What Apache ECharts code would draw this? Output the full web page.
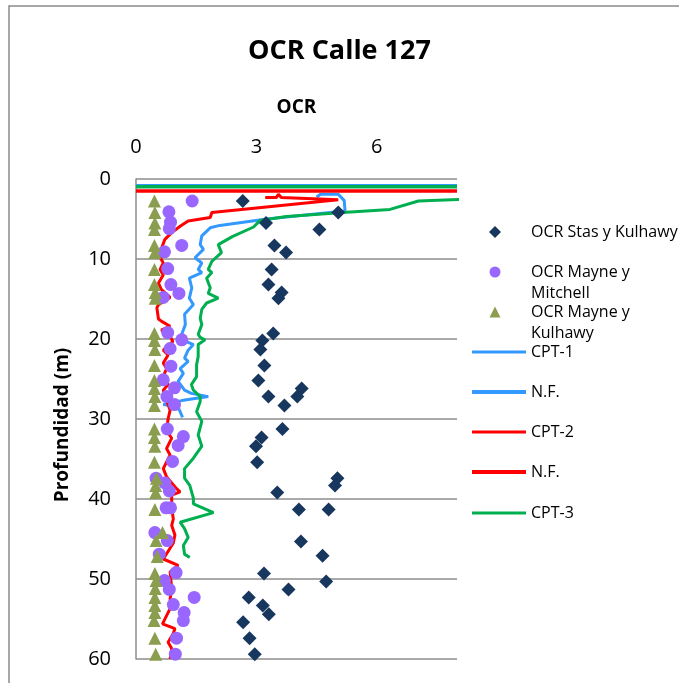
<!DOCTYPE html>
<html>
<head>
<meta charset="utf-8">
<script src="https://cdn.jsdelivr.net/npm/echarts@6/dist/echarts.min.js"></script>
<style>
  html, body { margin: 0; padding: 0; background: #ffffff; }
  #chart { width: 679px; height: 683px; }
</style>
</head>
<body>
<div id="chart"></div>
<script>
// OCR values against depth (m) for the Calle 127 site

// [OCR, depth]
const stasKulhawy = [
  [2.66, 2.75], [5.04, 4.2], [3.24, 5.5], [4.57, 6.3], [3.45, 8.3], [3.74, 9.2],
  [3.38, 11.3], [3.3, 13.2], [3.63, 14.2], [3.55, 14.9], [3.42, 19.3], [3.15, 20.2],
  [3.1, 21.3], [3.2, 23.3], [3.05, 25.2], [4.13, 26.2], [4.02, 27.2], [3.3, 27.2],
  [3.7, 28.3], [3.65, 31.25], [3.13, 32.3], [2.99, 33.4], [3.02, 35.4], [5.02, 37.4],
  [4.96, 38.3], [3.52, 39.2], [4.06, 41.3], [4.8, 41.3], [4.11, 45.3], [4.65, 47.1],
  [3.19, 49.3], [4.74, 50.3], [3.8, 51.3], [2.81, 52.3], [3.16, 53.3], [3.31, 54.4],
  [2.67, 55.4], [2.83, 57.4], [2.96, 59.4]
];

const mayneMitchell = [
  [1.4, 2.75], [0.82, 4.1], [0.86, 5.4], [0.83, 6.2], [1.14, 8.3], [0.71, 9.1],
  [0.79, 11.2], [0.87, 13.2], [1.07, 14.3], [0.68, 14.8], [0.79, 19.2], [1.14, 20.1],
  [0.85, 21.2], [0.87, 23.4], [0.68, 25.1], [0.96, 26.1], [0.77, 27.2], [0.96, 28.2],
  [0.78, 31.25], [1.18, 32.2], [1.05, 33.3], [0.91, 35.3], [0.5, 37.4], [0.72, 38.0],
  [0.83, 39.0], [0.75, 41.1], [0.86, 41.1], [0.47, 44.2], [0.78, 45.2], [0.58, 46.9],
  [1.0, 49.2], [0.71, 50.2], [0.83, 51.3], [1.45, 52.3], [0.93, 53.2], [1.2, 54.2],
  [1.18, 55.2], [1.01, 57.4], [0.98, 59.4]
];

const mayneKulhawy = [
  [0.46, 2.75], [0.47, 4.2], [0.47, 5.5], [0.46, 6.3], [0.46, 8.3], [0.47, 9.2],
  [0.46, 11.3], [0.46, 13.2], [0.48, 14.2], [0.48, 14.9], [0.46, 19.3], [0.46, 20.2],
  [0.47, 21.3], [0.46, 23.3], [0.46, 25.2], [0.46, 26.2], [0.47, 27.2], [0.46, 28.3],
  [0.46, 31.25], [0.46, 32.3], [0.47, 33.4], [0.46, 35.4], [0.51, 37.4], [0.49, 38.3],
  [0.49, 39.2], [0.47, 41.3], [0.66, 44.2], [0.5, 45.2], [0.53, 47.2], [0.47, 49.3],
  [0.5, 50.2], [0.48, 51.2], [0.47, 52.3], [0.47, 53.3], [0.47, 54.2], [0.45, 55.2],
  [0.47, 57.4], [0.49, 59.4]
];

const cpt1 = [
  [4.5, 2.25], [4.6, 1.9], [5.04, 1.9], [5.19, 2.7], [5.21, 4.0], [3.26, 5.0],
  [2.09, 5.8], [1.85, 6.1], [1.64, 7.1], [1.6, 8.2], [1.68, 8.8], [1.47, 9.85],
  [1.64, 10.5], [1.55, 11.3], [1.64, 11.7], [1.33, 12.4], [1.39, 13.6], [1.33, 14.9],
  [1.43, 15.7], [1.21, 16.9], [1.23, 18.2], [1.14, 19.4], [1.1, 20.0], [1.43, 20.7],
  [1.3, 21.4], [1.21, 22.4], [1.3, 22.8], [1.1, 23.7], [1.18, 24.3], [1.05, 25.3],
  [1.21, 26.4], [1.38, 26.8], [1.8, 27.2], [1.14, 27.7], [0.68, 28.2], [1.05, 28.5],
  [1.16, 29.8]
];

const cpt2 = [
  [3.22, 2.3], [3.5, 2.3], [3.55, 1.9], [3.62, 2.3], [5.04, 2.6], [5.04, 2.85],
  [1.89, 4.2], [1.85, 4.8], [1.3, 5.25], [1.1, 5.9], [0.89, 6.7], [0.72, 7.55],
  [0.64, 8.6], [0.61, 9.85], [0.68, 10.5], [0.6, 11.3], [0.68, 12.0], [0.56, 13.0],
  [0.63, 13.8], [0.85, 14.8], [0.56, 15.7], [0.52, 16.1], [0.56, 17.5], [0.64, 17.8],
  [0.85, 18.4], [0.63, 18.9], [0.82, 19.4], [0.92, 20.3], [0.68, 21.4], [0.8, 22.0],
  [0.68, 23.0], [0.76, 23.7], [0.68, 24.7], [0.8, 25.7], [0.68, 26.4], [0.76, 27.6],
  [0.85, 28.9], [0.8, 30.0], [0.76, 31.4], [0.89, 32.4], [0.76, 33.7], [0.85, 34.5],
  [0.68, 36.2], [0.76, 37.2], [1.01, 38.7], [1.1, 39.1], [0.89, 39.5], [0.89, 41.1],
  [0.93, 42.5], [0.89, 43.3], [0.97, 44.5], [0.93, 45.5], [0.68, 47.5], [1.05, 48.3],
  [0.85, 49.1], [0.89, 51.2], [0.85, 52.5], [0.89, 53.3], [0.66, 55.6], [0.97, 56.2],
  [0.93, 56.8], [0.8, 57.9], [0.89, 58.7], [0.85, 60.0]
];

const cpt3 = [
  [13.6, 2.3], [8.03, 2.55], [7.04, 2.75], [6.33, 3.8], [5.25, 4.15], [3.75, 4.7],
  [3.09, 5.2], [2.93, 6.0], [2.4, 7.2], [2.05, 8.2], [2.13, 9.2], [1.89, 10.3],
  [1.8, 11.3], [1.89, 11.7], [1.76, 12.4], [1.85, 13.6], [1.8, 14.3], [2.05, 14.9],
  [1.76, 15.5], [1.64, 16.3], [1.6, 17.4], [1.64, 18.2], [1.55, 19.4], [1.6, 19.8],
  [1.72, 20.1], [1.55, 20.7], [1.55, 22.2], [1.51, 23.2], [1.51, 24.7], [1.38, 25.7],
  [1.43, 26.4], [1.6, 27.2], [1.6, 27.8], [1.51, 29.1], [1.64, 30.3], [1.55, 32.0],
  [1.64, 33.4], [1.43, 34.9], [1.21, 36.2], [1.21, 37.4], [1.34, 38.3], [1.43, 39.9],
  [1.43, 40.6], [1.93, 41.7], [1.1, 42.9], [1.21, 43.7], [1.3, 44.8], [1.18, 45.8],
  [1.21, 46.9], [1.34, 47.3]
];

// water table (N.F.) depth for each sounding
const nfCpt1 = [[0, 0.85], [8, 0.85]];
const nfCpt2 = [[0, 1.5], [8, 1.5]];
const nfCpt3 = [[0, 0.97], [8, 0.97]];

const xTicks = [0, 3, 6];
const FONT = 'Open Sans';
const GRID_GRAY = '#8c8c8c';

const COLORS = {
  stas: '#17375E',
  mitchell: '#9966FF',
  kulhawy: '#8B9E4F',
  cpt1: '#3399FF',
  cpt2: '#FF0000',
  cpt3: '#00B050'
};

// legend rows: series name, vertical centre, shown text, icon, icon colour, icon thickness
const legendRows = [
  ['OCR Stas y Kulhawy', 232, 'OCR Stas y Kulhawy', 'diamond', COLORS.stas, 12],
  ['OCR Mayne y Mitchell', 272, '\nOCR Mayne y\nMitchell', 'circle', COLORS.mitchell, 11],
  ['OCR Mayne y Kulhawy', 312, '\nOCR Mayne y\nKulhawy', 'triangle', COLORS.kulhawy, 11],
  ['CPT-1', 352, 'CPT-1', 'rect', COLORS.cpt1, 3],
  ['N.F. CPT-1', 392, 'N.F.', 'rect', COLORS.cpt1, 4],
  ['CPT-2', 432, 'CPT-2', 'rect', COLORS.cpt2, 3],
  ['N.F. CPT-2', 472, 'N.F.', 'rect', COLORS.cpt2, 4],
  ['CPT-3', 513, 'CPT-3', 'rect', COLORS.cpt3, 3]
];
const LINE_H = 21;
const ICON_LEFT = 472;
const ICON_SPAN = 54;
const TEXT_LEFT = 531;

const legends = legendRows.map(([name, cy, shown, icon, color, size]) => {
  const lines = shown.split('\n').length;
  const isMarker = icon !== 'rect';
  const w = isMarker ? size : ICON_SPAN;
  const left = isMarker ? ICON_LEFT + ICON_SPAN / 2 - size / 2 - 4 : ICON_LEFT;
  return {
    data: [{ name, icon, itemStyle: { color, opacity: 1 } }],
    left,
    top: cy - (lines * LINE_H) / 2,
    orient: 'vertical',
    padding: 0,
    itemWidth: w,
    itemHeight: size,
    selectedMode: false,
    formatter: () => shown,
    textStyle: {
      fontFamily: FONT, fontSize: 16, lineHeight: LINE_H, color: '#000',
      padding: [0, 0, 0, TEXT_LEFT - (left + w + 5)]
    }
  };
});

const lineSeries = (name, data, color, width, extra) => Object.assign({
  name, type: 'line', data,
  symbol: 'none', showSymbol: false,
  lineStyle: { color, width },
  itemStyle: { color },
  z: 2, animation: false
}, extra || {});

const chart = echarts.init(document.getElementById('chart'), null, { renderer: 'canvas' });
chart.setOption({
  backgroundColor: '#ffffff',
  animation: false,
  title: {
    text: 'OCR Calle 127',
    left: 'center',
    top: 33,
    textStyle: { fontFamily: FONT, fontSize: 27, fontWeight: 'bold', color: '#000' }
  },
  graphic: [{
    type: 'rect',
    shape: { x: 9, y: 6, width: 800, height: 800 },
    style: { fill: 'none', stroke: '#8a8a8a', lineWidth: 1.5 },
    silent: true
  }],
  legend: legends,
  grid: { left: 136, top: 179, width: 321, height: 480 },
  xAxis: {
    type: 'value',
    position: 'top',
    min: 0, max: 8, interval: 3,
    name: 'OCR',
    nameLocation: 'middle',
    nameGap: 62,
    nameTextStyle: { fontFamily: FONT, fontSize: 19, fontWeight: 'bold', color: '#000' },
    axisLine: { show: false },
    axisTick: { show: false },
    splitLine: { show: false },
    axisLabel: {
      fontFamily: FONT, fontSize: 20, color: '#000', margin: 22,
      showMaxLabel: false,
      formatter: v => (xTicks.includes(v) ? String(v) : '')
    }
  },
  yAxis: {
    type: 'value',
    inverse: true,
    min: 0, max: 60, interval: 10,
    name: 'Profundidad (m)',
    nameLocation: 'middle',
    nameGap: 64,
    nameTextStyle: {
      fontFamily: FONT, fontSize: 19, fontWeight: 'bold', color: '#000',
      padding: [0, 12, 0, 0]
    },
    axisLine: { show: true, lineStyle: { color: GRID_GRAY, width: 1.5 } },
    axisTick: { show: false },
    splitLine: { show: true, lineStyle: { color: GRID_GRAY, width: 1.5 } },
    axisLabel: { fontFamily: FONT, fontSize: 20, color: '#000', margin: 25 }
  },
  series: [
    {
      name: 'OCR Stas y Kulhawy', type: 'scatter', data: stasKulhawy,
      symbol: 'diamond', symbolSize: 14,
      itemStyle: { color: COLORS.stas, opacity: 1 }, z: 4
    },
    {
      name: 'OCR Mayne y Mitchell', type: 'scatter', data: mayneMitchell,
      symbol: 'circle', symbolSize: 13,
      itemStyle: { color: COLORS.mitchell, opacity: 1 }, z: 4
    },
    {
      name: 'OCR Mayne y Kulhawy', type: 'scatter', data: mayneKulhawy,
      symbol: 'triangle', symbolSize: 13,
      itemStyle: { color: COLORS.kulhawy, opacity: 1 }, z: 4
    },
    lineSeries('CPT-1', cpt1, COLORS.cpt1, 3),
    lineSeries('N.F. CPT-1', nfCpt1, COLORS.cpt1, 3.5),
    lineSeries('CPT-2', cpt2, COLORS.cpt2, 3),
    lineSeries('N.F. CPT-2', nfCpt2, COLORS.cpt2, 3.5),
    lineSeries('CPT-3', cpt3, COLORS.cpt3, 3, { clip: false }),
    lineSeries('N.F. CPT-3', nfCpt3, COLORS.cpt3, 3.5)
  ]
});
</script>
</body>
</html>
